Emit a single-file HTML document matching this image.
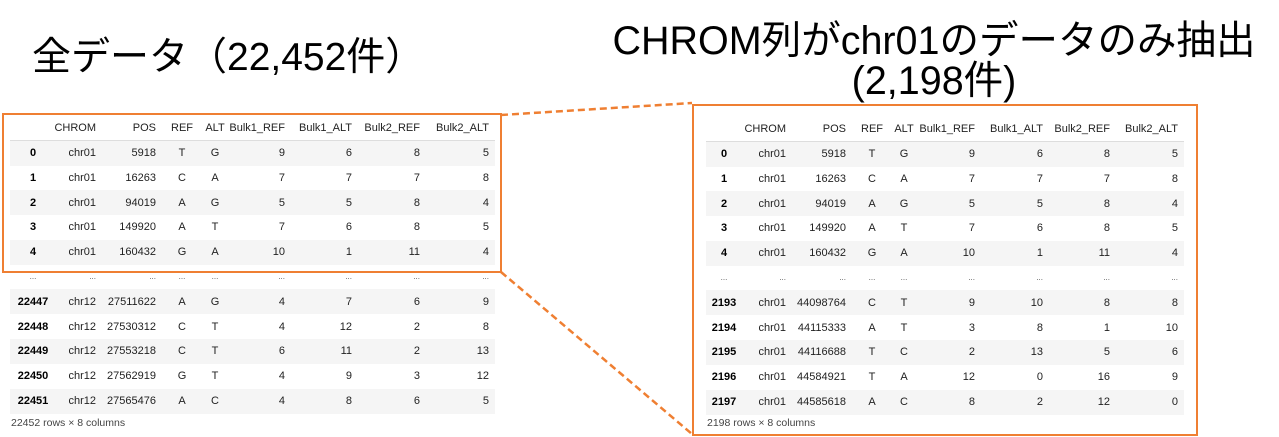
<!DOCTYPE html>
<html><head><meta charset="utf-8">
<style>
html,body{margin:0;padding:0;background:#fff;}
#root{position:relative;width:1279px;height:437px;overflow:hidden;background:#fff;font-family:"Liberation Sans","Noto Sans CJK JP",sans-serif;}
.title{position:absolute;color:#000;line-height:40px;white-space:nowrap;font-family:"Liberation Sans","Noto Sans CJK JP",sans-serif;}
.c{position:absolute;font-size:11px;line-height:14px;color:#222;white-space:nowrap;}
.stripe{position:absolute;background:#f5f5f5;height:25px;}
.hline{position:absolute;height:1px;background:#ddd;}
.box{position:absolute;border:2px solid #ef7f32;box-sizing:border-box;}
.foot{position:absolute;font-size:10.5px;color:#444;white-space:nowrap;}
</style></head>
<body>
<div id="root">
  <div class="title" style="left:32px;top:38px;font-size:39px;">全データ（22,452件）</div>
  <div class="title" style="left:600px;width:668px;text-align:center;top:21px;font-size:39.5px;">CHROM列がchr01のデータのみ抽出</div>
  <div class="title" style="left:600px;width:668px;text-align:center;top:61px;font-size:39.5px;">(2,198件)</div>
  <svg style="position:absolute;left:0;top:0" width="1279" height="437">
    <line x1="501" y1="115" x2="692" y2="103" stroke="#ef7f32" stroke-width="2.5" stroke-dasharray="7,4"/>
    <line x1="501" y1="272" x2="692" y2="434" stroke="#ef7f32" stroke-width="2.5" stroke-dasharray="7,4"/>
  </svg>
</div>
<script>
const headers=["","CHROM","POS","REF","ALT","Bulk1_REF","Bulk1_ALT","Bulk2_REF","Bulk2_ALT"];
const topRows=[["0","chr01","5918","T","G","9","6","8","5"],["1","chr01","16263","C","A","7","7","7","8"],["2","chr01","94019","A","G","5","5","8","4"],["3","chr01","149920","A","T","7","6","8","5"],["4","chr01","160432","G","A","10","1","11","4"]];
const leftBottom=[["22447","chr12","27511622","A","G","4","7","6","9"],["22448","chr12","27530312","C","T","4","12","2","8"],["22449","chr12","27553218","C","T","6","11","2","13"],["22450","chr12","27562919","G","T","4","9","3","12"],["22451","chr12","27565476","A","C","4","8","6","5"]];
const rightBottom=[["2193","chr01","44098764","C","T","9","10","8","8"],["2194","chr01","44115333","A","T","3","8","1","10"],["2195","chr01","44116688","T","C","2","13","5","6"],["2196","chr01","44584921","T","A","12","0","16","9"],["2197","chr01","44585618","A","C","8","2","12","0"]];
const root=document.getElementById('root');
function buildTable(prefix,x0,x1,cols,hdrY,footer,bottomRows,box){
  const b=document.createElement('div');b.className='box';
  
  
  b.style.left=box[0]+'px';b.style.top=box[1]+'px';b.style.width=(box[2]-box[0])+'px';b.style.height=(box[3]-box[1])+'px';
  const allRows=[];
  topRows.forEach(r=>allRows.push({cells:r}));
  allRows.push({cells:headers.map(()=>"..."),dots:true});
  bottomRows.forEach(r=>allRows.push({cells:r}));
  const hl=document.createElement('div');hl.className='hline';
  
  
  hl.style.left=x0+'px';hl.style.width=(x1-x0)+'px';hl.style.top=(hdrY+12)+'px';root.appendChild(hl);
  allRows.forEach((row,i)=>{
    const cy=hdrY+25+i*24.8;
    if(i%2===0 && !row.dots){
      const s=document.createElement('div');s.className='stripe';
      
      
      s.style.left=x0+'px';s.style.width=(x1-x0)+'px';s.style.top=(cy-12.5)+'px';root.appendChild(s);
    }
    row.cells.forEach((t,j)=>addCell(prefix,t,cols[j],cy,j===0&&!row.dots,row.dots));
  });
  root.appendChild(b);
  headers.forEach((h,j)=>{if(h)addCell(prefix,h,cols[j],hdrY,false,false,true);});
  const f=document.createElement('div');f.className='foot';
  
  
  f.textContent=footer;f.style.left=(x0+1)+'px';f.style.top='417px';root.appendChild(f);
}
function addCell(prefix,t,col,cy,bold,dots,hdr){
  const d=document.createElement('div');d.className='c';
  
  
  d.textContent=t;
  if(bold){d.style.fontWeight='bold';d.style.color='#000';}
  if(dots){d.style.fontSize='8px';d.style.color='#555';}
  d.style.top=(cy-7)+'px';
  if(col[0]==='c'){d.style.left=(col[1]-40)+'px';d.style.width='80px';d.style.textAlign='center';}
  else{d.style.left=(col[1]-100)+'px';d.style.width='100px';d.style.textAlign='right';}
  root.appendChild(d);
}
buildTable('left-table',10,495,[['c',33],['r',96],['r',156],['c',182],['c',215],['r',285],['r',352],['r',420],['r',489]],128,'22452 rows × 8 columns',leftBottom,[2,113,502,273]);
buildTable('right-table',706,1184,[['c',724],['r',786],['r',846],['c',872],['c',904],['r',975],['r',1043],['r',1110],['r',1178]],129,'2198 rows × 8 columns',rightBottom,[692,104,1198,436]);
</script>
</body></html>
